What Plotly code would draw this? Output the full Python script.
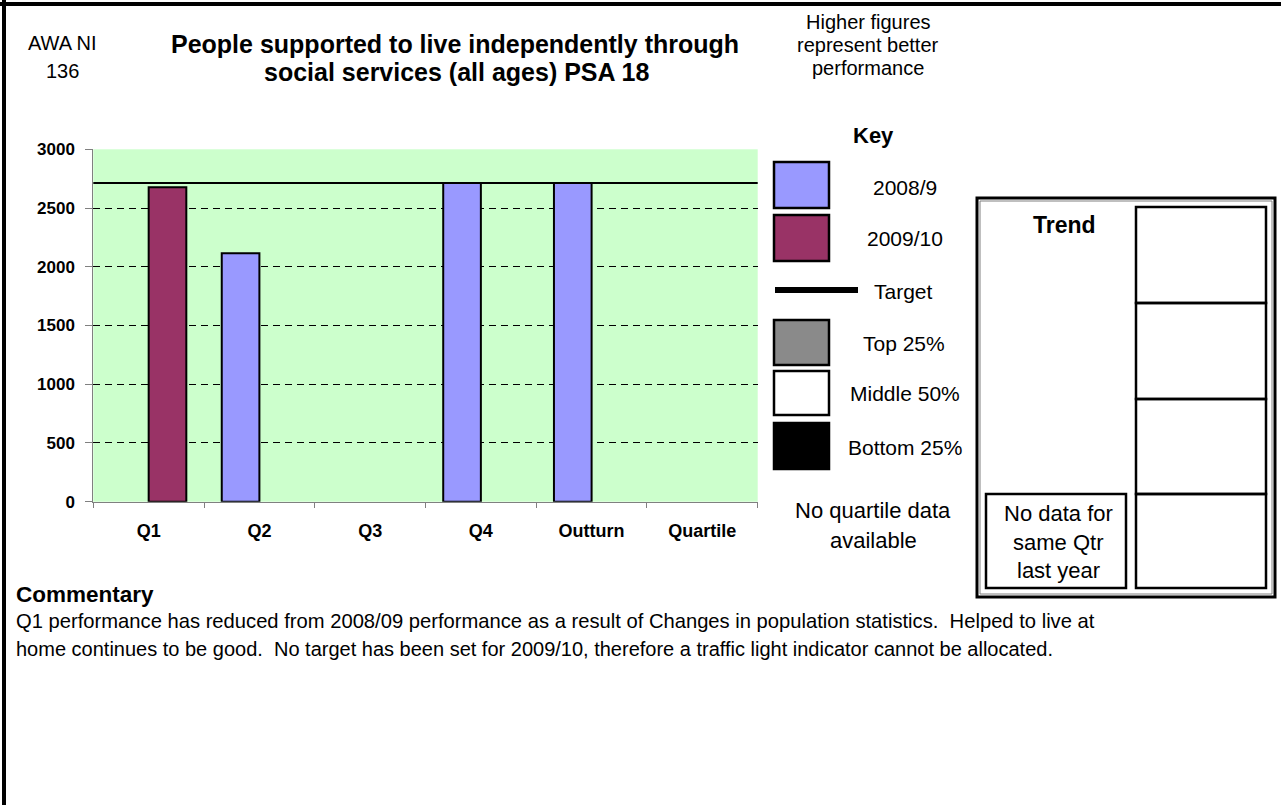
import plotly.graph_objects as go

# ---------------- data ----------------
categories = ["Q1", "Q2", "Q3", "Q4", "Outturn", "Quartile"]
series_2008_9 = [None, 2116, None, 2714, 2714, None]
series_2009_10 = [2677, None, None, None, None, None]
target_value = 2714
y_ticks = [0, 500, 1000, 1500, 2000, 2500, 3000]

W, H = 1281, 805
FONT = "Arial, Liberation Sans, sans-serif"


def px(x):
    return x / W


def py(y):
    return 1 - y / H


fig = go.Figure()
fig.add_trace(go.Bar(name="2008/9", x=categories, y=series_2008_9,
                     marker=dict(color="#9999FF", line=dict(color="black", width=2))))
fig.add_trace(go.Bar(name="2009/10", x=categories, y=series_2009_10,
                     marker=dict(color="#993366", line=dict(color="black", width=2))))

shapes = []
# target line through the y scale
shapes.append(dict(type="line", xref="x domain", x0=0, x1=1, yref="y",
                   y0=target_value, y1=target_value, line=dict(color="black", width=2)))

# page border (top and left)
shapes.append(dict(type="line", xref="paper", yref="paper", x0=0, x1=1, y0=py(4), y1=py(4),
                   line=dict(color="black", width=4)))
shapes.append(dict(type="line", xref="paper", yref="paper", x0=px(4), x1=px(4), y0=0, y1=1,
                   line=dict(color="black", width=4)))


def rect(x0, y0, x1, y1, fill="rgba(0,0,0,0)", lw=2.5, color="black"):
    shapes.append(dict(type="rect", xref="paper", yref="paper",
                       x0=px(x0), x1=px(x1), y0=py(y1), y1=py(y0),
                       fillcolor=fill, line=dict(color=color, width=lw)))


# key swatches
rect(774, 162, 829, 208, "#9999FF")
rect(774, 215, 829, 261, "#993366")
shapes.append(dict(type="line", xref="paper", yref="paper", x0=px(775), x1=px(858),
                   y0=py(290), y1=py(290), line=dict(color="black", width=6)))
rect(774, 320, 829, 365, "#8a8a8a")
rect(774, 371, 829, 415, "white")
rect(774, 423, 829, 469, "black")

# trend panel
rect(977, 198, 1275, 597, "white", lw=3)
rect(980, 201, 1272, 594, lw=1, color="#808080")
rect(1136, 207, 1266, 303, lw=2.5)
rect(1136, 303, 1266, 399, lw=2.5)
rect(1136, 399, 1266, 494, lw=2.5)
rect(1136, 494, 1266, 588, lw=2.5)
rect(986, 494, 1126, 588, lw=2.5)

annotations = []


def text(x, y, s, size, bold=False, anchor="center"):
    annotations.append(dict(x=px(x), y=py(y), xref="paper", yref="paper", text=s,
                            showarrow=False, xanchor=anchor, yanchor="middle",
                            font=dict(family=FONT, size=size, color="black",
                                      weight="bold" if bold else "normal")))


text(62, 43, "AWA NI", 20)
text(62, 71, "136", 20)
text(455, 44, "People supported to live independently through", 25, True)
text(457, 72, "social services (all ages) PSA 18", 25, True)
text(868, 22, "Higher figures", 20)
text(868, 45, "represent better", 20)
text(868, 68, "performance", 20)
text(873, 135, "Key", 22, True)
text(905, 188, "2008/9", 21)
text(905, 238, "2009/10", 21)
text(903, 291, "Target", 21)
text(904, 343, "Top 25%", 21)
text(905, 393, "Middle 50%", 21)
text(905, 447, "Bottom 25%", 21)
text(873, 510, "No quartile data", 22)
text(873, 540, "available", 22)
text(1064, 225, "Trend", 23, True)
text(1058, 513, "No data for", 22)
text(1058, 542, "same Qtr", 22)
text(1058, 570, "last year", 22)
text(14, 594, "Commentary", 22.5, True, "left")
text(14, 621, "Q1 performance has reduced from 2008/09 performance as a result of Changes in population statistics.  Helped to live at", 20.2, False, "left")
text(14, 649, "home continues to be good.  No target has been set for 2009/10, therefore a traffic light indicator cannot be allocated.", 20, False, "left")

fig.update_layout(
    width=W, height=H,
    margin=dict(l=0, r=0, t=0, b=0, pad=0, autoexpand=False),
    paper_bgcolor="white",
    plot_bgcolor="#CCFFCC",
    barmode="group", bargap=0.32, bargroupgap=0,
    showlegend=False,
    shapes=shapes,
    annotations=annotations,
    font=dict(family=FONT, color="black"),
    xaxis=dict(domain=[px(93.3), px(757.7)], type="category", automargin=False,
               showline=True, linecolor="#808080", linewidth=1,
               ticks="outside", tickson="boundaries", ticklen=5, tickcolor="#808080",
               tickfont=dict(family=FONT, size=18, color="black", weight="bold"),
               ticklabelstandoff=13, showgrid=False),
    yaxis=dict(domain=[py(501.7), py(149.3)], range=[0, 3000], automargin=False,
               tickvals=y_ticks,
               showline=True, linecolor="#808080", linewidth=1,
               ticks="outside", ticklen=7, tickcolor="#808080",
               tickfont=dict(family=FONT, size=17, color="black", weight="bold"),
               ticklabelstandoff=7,
               showgrid=True, gridcolor="black", gridwidth=1, griddash="7px,5px",
               zeroline=False),
)

fig.write_html("out.html")
